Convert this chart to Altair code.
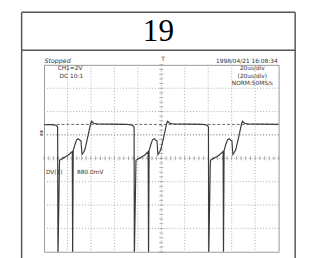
import altair as alt
import pandas as pd

# ---- trace (time in us, voltage in V) ----
t_us = [-100, -94.2, -90.0, -88.8, -88.4, -88.1, -86.9, -86.7, -85.5, -82.6, -79.3, -75.9, -75.6, -75.1,
        -73.4, -72.2, -71.0, -69.3, -68.5, -67.6, -66.4, -65.1, -62.7, -60.2, -59.3, -57.7, -54.4,
        -41.9, -29.5, -25.3, -23.7,
        -23.2, -23.0, -21.7, -21.6, -20.3, -17.4, -14.1, -11.2, -10.9, -10.4,
        -8.7, -7.5, -6.2, -4.6, -3.7, -2.9, -1.7, -0.4, 2.1, 4.6, 5.4, 7.1, 10.4,
        24.5, 35.3, 38.6, 39.8,
        40.2, 40.4, 41.7, 41.9, 43.2, 46.1, 49.4, 52.7, 53.0, 53.5,
        55.2, 56.4, 57.7, 59.3, 60.2, 61.0, 62.2, 63.5, 66.0, 68.5, 69.3, 71.0, 74.3,
        86.7, 100]
v_volt = [2.875, 2.89, 2.83, 2.75, 2.67, -8.6, -0.75, -0.17, -0.08, 0.08, 0.29, 0.58, -8.6, 0.67,
          1.25, 1.58, 1.67, 1.54, 1.5, 0.33, 0.5, 0.75, 1.83, 3.0, 3.17, 3.0, 2.94,
          2.92, 2.9, 2.85, 2.75,
          2.67, -8.6, -0.75, -0.17, -0.08, 0.08, 0.29, 0.58, -8.6, 0.67,
          1.25, 1.58, 1.67, 1.54, 1.5, 0.33, 0.5, 0.75, 1.83, 3.0, 3.17, 3.0, 2.94,
          2.92, 2.9, 2.85, 2.75,
          2.67, -8.6, -0.75, -0.17, -0.08, 0.08, 0.29, 0.58, -8.6, 0.67,
          1.25, 1.58, 1.67, 1.54, 1.5, 0.33, 0.5, 0.75, 1.83, 3.0, 3.17, 3.0, 2.94,
          2.92, 2.9]

grid_t = [-80, -60, -40, -20, 0, 20, 40, 60, 80]
grid_v = [-6, -4, -2, 0, 2, 4, 6]
minor_t = [-100 + 4 * k for k in range(51)]
minor_v = [-8 + 0.4 * k for k in range(41)]
cursor_v = [2.90, 2.02]

title_text = "19"
status_text = "Stopped"
ch_text = ["CH1=2V", "DC  10:1"]
date_text = "1998/04/21  16:08:34"
time_text = ["20us/div", "(20us/div)", "NORM:50MS/s"]
dv_label = "DV(1)"
dv_value = "880.0mV"

W, H = 241, 192
xs = alt.Scale(domain=[-100, 100], nice=False, zero=False)
ys = alt.Scale(domain=[-8, 8], nice=False, zero=False)

trace = pd.DataFrame({"t": t_us, "v": v_volt, "i": list(range(len(t_us)))})
FONT = "DejaVu Sans"
TXT = "#333333"

gx = alt.Chart(pd.DataFrame({"t": grid_t})).mark_rule(
    color="#aaaaaa", strokeDash=[1, 2], strokeWidth=1
).encode(x=alt.X("t:Q", scale=xs, axis=None))
gy = alt.Chart(pd.DataFrame({"v": grid_v})).mark_rule(
    color="#aaaaaa", strokeDash=[1, 2], strokeWidth=1
).encode(y=alt.Y("v:Q", scale=ys, axis=None))

tick_x = alt.Chart(pd.DataFrame({"t": minor_t})).mark_tick(
    color="#888888", size=4, thickness=1
).encode(x=alt.X("t:Q", scale=xs, axis=None), y=alt.value(H / 2))
tick_y = alt.Chart(pd.DataFrame({"v": minor_v})).mark_tick(
    color="#888888", size=4, thickness=1
).encode(y=alt.Y("v:Q", scale=ys, axis=None), x=alt.value(W / 2))

cur1 = alt.Chart(pd.DataFrame({"v": cursor_v[:1]})).mark_rule(
    color="#666666", strokeDash=[3, 2], strokeWidth=1
).encode(y=alt.Y("v:Q", scale=ys, axis=None))
cur2 = alt.Chart(pd.DataFrame({"v": cursor_v[1:]})).mark_rule(
    color="#999999", strokeDash=[1, 2], strokeWidth=1
).encode(y=alt.Y("v:Q", scale=ys, axis=None))

line = alt.Chart(trace).mark_line(
    color="#3a3a3a", strokeWidth=1.2, clip=True, interpolate="linear"
).encode(
    x=alt.X("t:Q", scale=xs, axis=None),
    y=alt.Y("v:Q", scale=ys, axis=None),
    order="i:Q",
)

def rule(x1, x2, y1, y2, color="#555555", w=1.5):
    return alt.Chart(pd.DataFrame({"a": [0]})).mark_rule(
        color=color, strokeWidth=w
    ).encode(x=alt.value(x1), x2=alt.value(x2), y=alt.value(y1), y2=alt.value(y2))

frame = [
    rule(-23, -23, -54, 200),
    rule(258, 258, -54, 200),
    rule(-23, 258, -54, -54),
    rule(-23, 258, -15, -15),
]

def text(s, x, y, size=6, align="left", style="normal", font=FONT, color=TXT):
    return alt.Chart(pd.DataFrame({"s": [s]})).mark_text(
        align=align, baseline="middle", fontSize=size, font=font, fontStyle=style, color=color
    ).encode(x=alt.value(x), y=alt.value(y), text="s:N")

texts = [
    text(title_text, 117.5, -34, size=32, align="center", font="Liberation Serif", color="#000000"),
    text(status_text, 0.5, -4, size=6.5, style="italic"),
    text(ch_text[0], 14, 3),
    text(ch_text[1], 16, 11),
    text(date_text, 240, -4, align="right"),
    text(time_text[0], 214, 3, align="center"),
    text(time_text[1], 214, 11, align="center"),
    text(time_text[2], 214, 19, align="center"),
    text(dv_label, 2, 110),
    text(dv_value, 34, 110),
    text("T", 120.5, -6, size=6),
    text("\u21d5", -6, 71, size=8),
]

chart = alt.layer(gx, gy, tick_x, tick_y, cur1, cur2, line, *frame, *texts).properties(
    width=W, height=H,
    autosize=alt.AutoSizeParams(type="none"),
    padding={"left": 37, "top": 55, "right": 23, "bottom": 3},
).configure_view(stroke="#999999", strokeWidth=1)

chart.save("out.html", embed_options={"renderer": "svg", "actions": False})
